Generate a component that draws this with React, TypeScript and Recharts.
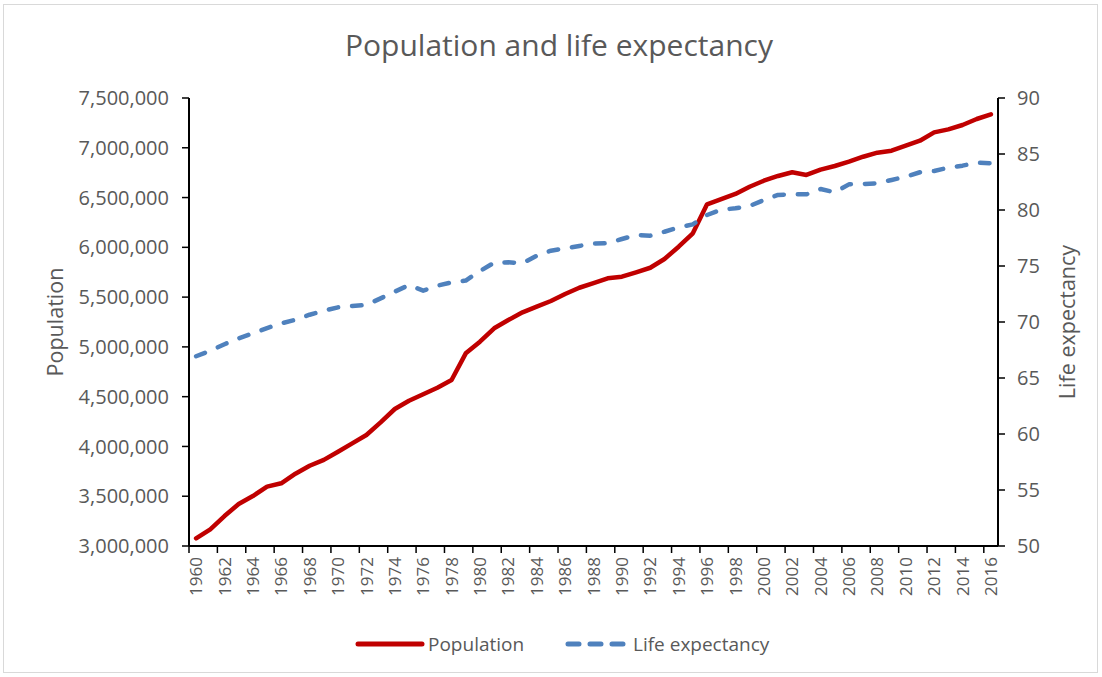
import React from 'react'
import { LineChart, Line, XAxis, YAxis } from 'recharts'

const FONT = '"Open Sans", sans-serif'
const TEXT = '#595959'

const years = [
  1960, 1961, 1962, 1963, 1964, 1965, 1966, 1967, 1968, 1969,
  1970, 1971, 1972, 1973, 1974, 1975, 1976, 1977, 1978, 1979,
  1980, 1981, 1982, 1983, 1984, 1985, 1986, 1987, 1988, 1989,
  1990, 1991, 1992, 1993, 1994, 1995, 1996, 1997, 1998, 1999,
  2000, 2001, 2002, 2003, 2004, 2005, 2006, 2007, 2008, 2009,
  2010, 2011, 2012, 2013, 2014, 2015, 2016,
]

const population = [
  3077000, 3168000, 3301000, 3422000, 3502000, 3596000, 3630000, 3726000, 3806000, 3865000,
  3947000, 4031000, 4115000, 4242000, 4376000, 4459000, 4524000, 4590000, 4667000, 4935000,
  5052000, 5187000, 5270000, 5347000, 5404000, 5461000, 5531000, 5594000, 5640000, 5689000,
  5705000, 5749000, 5795000, 5883000, 6006000, 6141000, 6432000, 6485000, 6536000, 6609000,
  6669000, 6717000, 6754000, 6727000, 6780000, 6817000, 6860000, 6910000, 6951000, 6971000,
  7021000, 7071000, 7155000, 7185000, 7229000, 7289000, 7336000,
]

const lifeExpectancy = [
  66.94, 67.44, 68.01, 68.54, 68.99, 69.46, 69.88, 70.2, 70.65, 71.0,
  71.31, 71.43, 71.52, 72.11, 72.71, 73.3, 72.8, 73.24, 73.54, 73.7,
  74.55, 75.3, 75.33, 75.24, 75.92, 76.37, 76.58, 76.79, 77.0, 77.03,
  77.41, 77.77, 77.71, 78.06, 78.45, 78.72, 79.55, 80.03, 80.15, 80.36,
  80.89, 81.34, 81.4, 81.4, 81.87, 81.58, 82.29, 82.32, 82.38, 82.68,
  82.97, 83.37, 83.48, 83.78, 83.96, 84.22, 84.17,
]

const yearLabels = [
  1960, 1962, 1964, 1966, 1968, 1970, 1972, 1974, 1976, 1978,
  1980, 1982, 1984, 1986, 1988, 1990, 1992, 1994, 1996, 1998,
  2000, 2002, 2004, 2006, 2008, 2010, 2012, 2014, 2016,
]

const popTicks = [3000000, 3500000, 4000000, 4500000, 5000000, 5500000, 6000000, 6500000, 7000000, 7500000]
const lifeTicks = [50, 55, 60, 65, 70, 75, 80, 85, 90]

const data = years.map((year, i) => ({
  year,
  population: population[i],
  life: lifeExpectancy[i],
}))

// labels sit on category centres, tick marks on the boundaries (Excel style)
const xTicks = [...yearLabels, ...yearLabels.map((y) => y - 0.5)].sort((a, b) => a - b)

function YearTick({ x, y, payload }: any) {
  const v = payload.value
  if (v % 1 !== 0) {
    return <line x1={x} x2={x} y1={y} y2={y + 7} stroke="#000" strokeWidth={1.5} />
  }
  const ty = y + 11
  return (
    <text
      x={x}
      y={ty}
      transform={`rotate(-90, ${x}, ${ty})`}
      textAnchor="end"
      dy="0.36em"
      fill={TEXT}
      fontSize={17}
      fontFamily={FONT}
    >
      {v}
    </text>
  )
}

function axisTitle(text: string, dx: number) {
  return (props: any) => {
    const vb = props.viewBox || {}
    const x = (vb.x ?? 0) + dx
    const y = (vb.y ?? 98) + (vb.height ?? 448) / 2
    return (
      <text
        x={x}
        y={y}
        transform={`rotate(-90, ${x}, ${y})`}
        textAnchor="middle"
        dy="0.36em"
        fill={TEXT}
        fontSize={21.5}
        fontFamily={FONT}
      >
        {text}
      </text>
    )
  }
}

export default function App() {
  return (
    <div style={{ position: 'absolute', left: 0, top: 0, width: 1102, height: 677, background: '#fff' }}>
      <div
        style={{
          position: 'absolute', left: 3, top: 4, width: 1093, height: 667,
          border: '1px solid #d9d9d9',
        }}
      />
      <div style={{ position: 'absolute', left: 0, top: 0 }}>
        <LineChart width={1102} height={677} data={data} margin={{ top: 98, right: 10, bottom: 10, left: 10 }}>
          <XAxis
            dataKey="year"
            type="number"
            domain={[1959.5, 2016.5]}
            ticks={xTicks}
            interval={0}
            height={121}
            tickSize={0}
            tickMargin={0}
            tickLine={false}
            tick={<YearTick />}
            axisLine={{ stroke: '#000', strokeWidth: 2 }}
          />
          <YAxis
            yAxisId="pop"
            domain={[3000000, 7500000]}
            ticks={popTicks}
            interval={0}
            width={179}
            tickSize={7}
            tickMargin={13}
            tickFormatter={(v) => v.toLocaleString('en-US')}
            tick={{ fill: TEXT, fontSize: 20, fontFamily: FONT }}
            axisLine={{ stroke: '#000', strokeWidth: 2 }}
            tickLine={{ stroke: '#000', strokeWidth: 1.5 }}
            label={axisTitle('Population', 45)}
          />
          <YAxis
            yAxisId="life"
            orientation="right"
            domain={[50, 90]}
            ticks={lifeTicks}
            interval={0}
            width={94}
            tickSize={7}
            tickMargin={12}
            tick={{ fill: TEXT, fontSize: 20, fontFamily: FONT }}
            axisLine={{ stroke: '#000', strokeWidth: 2 }}
            tickLine={{ stroke: '#000', strokeWidth: 1.5 }}
            label={axisTitle('Life expectancy', 69)}
          />
          <Line
            yAxisId="pop"
            dataKey="population"
            type="linear"
            stroke="#C00000"
            strokeWidth={4.5}
            strokeLinejoin="round"
            strokeLinecap="round"
            dot={false}
            activeDot={false}
            isAnimationActive={false}
          />
          <Line
            yAxisId="life"
            dataKey="life"
            type="linear"
            stroke="#4F81BD"
            strokeWidth={4.5}
            strokeDasharray="9.5 14"
            strokeLinecap="round"
            strokeLinejoin="round"
            dot={false}
            activeDot={false}
            isAnimationActive={false}
          />
        </LineChart>
      </div>
      <svg
        width={1102}
        height={677}
        style={{ position: 'absolute', left: 0, top: 0, pointerEvents: 'none' }}
        fontFamily={FONT}
      >
        <text x={559} y={56} textAnchor="middle" fontSize={30} fill={TEXT}>
          Population and life expectancy
        </text>
        <line x1={358} x2={422} y1={644} y2={644} stroke="#C00000" strokeWidth={5} strokeLinecap="round" />
        <text x={428} y={651} fontSize={19} fill={TEXT}>Population</text>
        <line
          x1={568} x2={628} y1={644} y2={644}
          stroke="#4F81BD" strokeWidth={5} strokeLinecap="round" strokeDasharray="11 11"
        />
        <text x={633} y={651} fontSize={19} fill={TEXT}>Life expectancy</text>
      </svg>
    </div>
  )
}
